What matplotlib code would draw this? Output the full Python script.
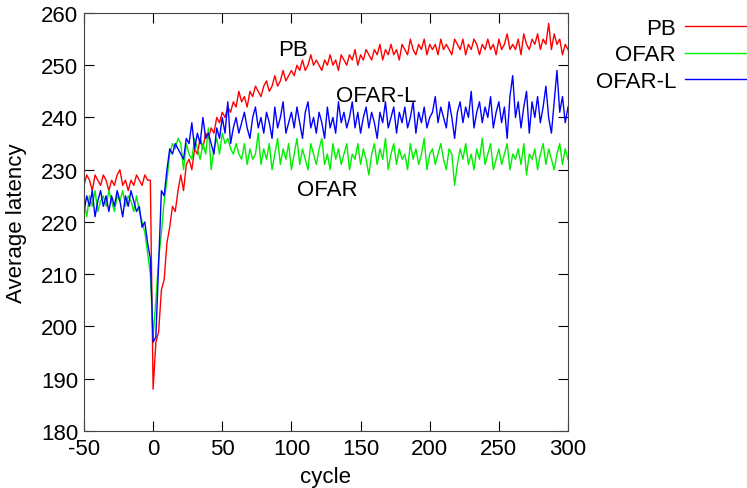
import matplotlib
matplotlib.use('Agg')
import matplotlib.pyplot as plt

plt.rcParams['font.family'] = ['Liberation Sans', 'DejaVu Sans']
plt.rcParams['axes.unicode_minus'] = False

# cycle -50 .. 300, step 2
cycles = list(range(-50, 301, 2))

pb = [227, 229, 228, 226, 229, 228, 227, 229, 228, 226,
      228, 227, 229, 230, 227, 228, 226, 228, 227, 229,
      228, 227, 229, 228, 228,
      188,
      197, 199, 207, 209, 216, 219, 223, 222, 226, 229,
      226, 231, 232, 230, 234, 233, 236, 234, 237, 236,
      238, 237, 240, 239, 241, 240, 242, 241, 243, 242,
      245, 243, 244, 242, 245, 244, 246, 245, 244, 246,
      247, 245, 246, 248, 246, 247, 249, 247, 248, 249,
      248, 250, 249, 251, 249, 250, 252, 250, 251, 250,
      249, 251, 250, 252, 250, 251, 249, 252, 251, 250,
      252, 251, 253, 250, 252, 251, 253, 252, 251, 253,
      252, 254, 251, 253, 252, 254, 252, 253, 251, 254,
      253, 252, 255, 253, 252, 254, 253, 255, 252, 254,
      253, 254, 252, 255, 253, 254, 253, 252, 255, 254,
      253, 255, 252, 254, 253, 255, 254, 252, 254, 253,
      255, 253, 254, 252, 255, 253, 254, 256, 253, 254,
      253, 255, 252, 256, 254, 253, 255, 254, 256, 253,
      255, 254, 258, 253, 256, 254, 255, 252, 254, 253]

ofar = [224, 221, 225, 223, 226, 222, 224, 225, 223, 226,
        224, 222, 225, 224, 226, 223, 225, 224, 222, 225,
        222, 220, 218, 214, 210,
        198,
        205, 213, 218, 224, 228, 233, 235, 234, 236, 235,
        230, 235, 233, 232, 236, 234, 232, 235, 233, 238,
        230, 234, 236, 233, 237, 235, 236, 234, 233, 235,
        233, 232, 235, 231, 234, 232, 233, 237, 231, 234,
        232, 235, 230, 233, 236, 231, 234, 232, 235, 230,
        233, 236, 231, 234, 232, 230, 235, 233, 231, 234,
        236, 231, 233, 230, 235, 232, 234, 231, 233, 235,
        230, 233, 232, 235, 231, 234, 232, 229, 233, 235,
        231, 234, 232, 236, 230, 233, 235, 231, 234, 232,
        233, 230, 235, 232, 234, 231, 233, 236, 230, 233,
        234, 231, 233, 235, 232, 230, 234, 233, 227, 231,
        234, 232, 235, 231, 233, 230, 234, 232, 236, 231,
        233, 235, 230, 232, 234, 231, 233, 235, 230, 233,
        232, 234, 231, 235, 229, 233, 232, 234, 230, 233,
        235, 231, 234, 232, 230, 233, 235, 231, 234, 232]

ofar_l = [222, 225, 223, 226, 221, 224, 226, 223, 225, 222,
          225, 223, 226, 224, 221, 225, 223, 226, 224, 222,
          223, 219, 220, 216, 213,
          197,
          198, 212, 226, 225, 230, 234, 233, 235, 234, 233,
          232, 236, 235, 239, 234, 237, 235, 240, 236, 237,
          235, 233, 238, 236, 240, 237, 243, 235, 238, 240,
          237, 239, 241, 238, 236, 240, 242, 238, 240, 237,
          241, 239, 236, 242, 238, 240, 243, 237, 239, 241,
          238, 242, 239, 236, 241, 243, 238, 240, 237, 241,
          239, 236, 242, 238, 240, 237, 243, 239, 241, 238,
          240, 243, 238, 241, 237, 240, 242, 238, 241, 239,
          236, 241, 239, 243, 238, 240, 242, 237, 241, 239,
          242, 238, 240, 243, 237, 241, 239, 242, 238, 240,
          241, 244, 239, 242, 240, 238, 243, 240, 236, 241,
          243, 239, 242, 240, 245, 238, 241, 243, 239, 242,
          240, 244, 238, 241, 243, 239, 242, 236, 244, 248,
          240, 243, 238, 242, 245, 237, 243, 240, 244, 239,
          242, 246, 240, 237, 243, 249, 241, 244, 239, 242]

xticks = [-50, 0, 50, 100, 150, 200, 250, 300]
yticks = [180, 190, 200, 210, 220, 230, 240, 250, 260]

fs = 16

fig = plt.figure(figsize=(7.47, 4.89), dpi=100)
ax = fig.add_axes([0.1124, 0.1166, 0.648, 0.8548])

ax.plot(cycles, pb, color='#ff0000', lw=1.0, label='PB')
ax.plot(cycles, ofar, color='#00ee00', lw=1.0, label='OFAR')
ax.plot(cycles, ofar_l, color='#0000ff', lw=1.0, label='OFAR-L')

ax.set_xlim(-50, 300)
ax.set_ylim(180, 260)
ax.set_xticks(xticks)
ax.set_yticks(yticks)
ax.tick_params(direction='in', length=7, top=True, right=True, labelsize=fs)
ax.tick_params(axis='x', pad=5)
ax.tick_params(axis='y', pad=4)
for s in ax.spines.values():
    s.set_color('#444444')

ax.set_xlabel('cycle', fontsize=fs, labelpad=5)
ax.set_ylabel('Average latency', fontsize=fs, labelpad=10)

# labels inside the plot
ax.text(101, 253.0, 'PB', fontsize=fs, ha='center', va='center')
ax.text(161, 244.3, 'OFAR-L', fontsize=fs, ha='center', va='center')
ax.text(126, 226.3, 'OFAR', fontsize=fs, ha='center', va='center')

fig.legend(loc='upper right', bbox_to_anchor=(1.0, 0.962), frameon=False,
           markerfirst=False, fontsize=fs, handlelength=2.8, handletextpad=0.4,
           labelspacing=0.26, borderaxespad=0.0, borderpad=0.0)

fig.savefig('out.png', dpi=100)
